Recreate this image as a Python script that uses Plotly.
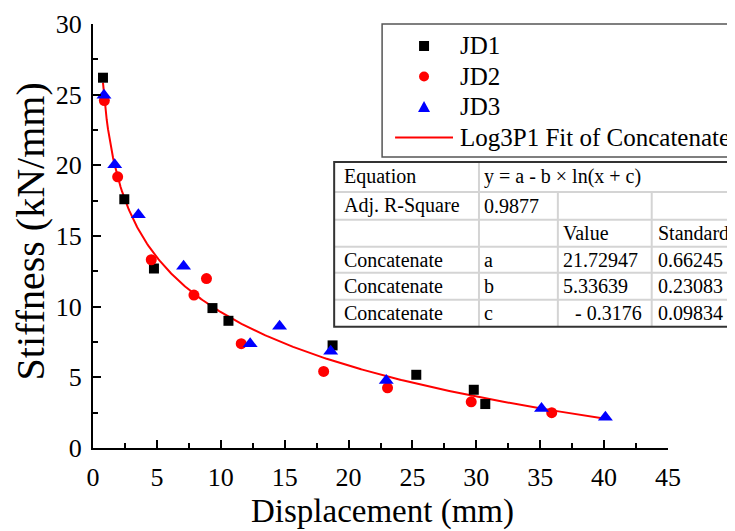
import numpy as np
import plotly.graph_objects as go

# ---------------- data ----------------
jd1_x = [0.78, 2.45, 4.77, 9.35, 10.6, 18.75, 25.3, 29.8, 30.7]
jd1_y = [26.2, 17.6, 12.7, 9.9, 9.0, 7.26, 5.18, 4.12, 3.11]

jd2_x = [0.89, 1.93, 4.56, 7.9, 8.88, 11.6, 18.05, 23.05, 29.6, 35.9]
jd2_y = [24.58, 19.19, 13.32, 10.82, 11.99, 7.38, 5.42, 4.26, 3.27, 2.5]

jd3_x = [0.86, 1.7, 3.55, 7.09, 12.3, 14.6, 18.6, 22.95, 35.1, 40.1]
jd3_y = [24.95, 20.05, 16.5, 12.86, 7.37, 8.62, 6.85, 4.78, 2.8, 2.18]

# Log3P1 fit parameters (as printed in the chart's table)
fit_a = 21.72947
fit_b = 5.33639
fit_c = -0.3176

x_ticks = [0, 5, 10, 15, 20, 25, 30, 35, 40, 45]
y_ticks = [0, 5, 10, 15, 20, 25, 30]

legend_names = ["JD1", "JD2", "JD3", "Log3P1 Fit of Concatenate"]

table_rows = [
    ["Equation", "y = a - b \u00d7 ln(x + c)", "", ""],
    ["Adj. R-Square", "0.9877", "", ""],
    ["", "", "Value", "Standard"],
    ["Concatenate", "a", "21.72947", "0.66245"],
    ["Concatenate", "b", "5.33639", "0.23083"],
    ["Concatenate", "c", "- 0.3176", "0.09834"],
]

# ---------------- figure ----------------
FONT = "Liberation Serif"
PAGE_OFF = 8           # default body margin of the html page
W, H = 735 - PAGE_OFF, 531 - PAGE_OFF
PL, PT = 92.5, 24      # plot-area corner in window pixels
PW, PH = 668.3 - 92.5, 448.3 - 24
L, T = PL - PAGE_OFF, PT - PAGE_OFF

def px(x):
    return (x - PL) / PW

def py(y):
    return (PT + PH - y) / PH

all_x = jd1_x + jd2_x + jd3_x
fit_x = np.linspace(min(all_x), max(all_x), 400)
fit_y = fit_a - fit_b * np.log(fit_x + fit_c)

fig = go.Figure()
fig.add_trace(go.Scatter(x=fit_x, y=fit_y, mode="lines",
                         line=dict(color="#ff0000", width=2),
                         name=legend_names[3], showlegend=False))
fig.add_trace(go.Scatter(x=jd1_x, y=jd1_y, mode="markers", name=legend_names[0],
                         marker=dict(symbol="square", size=10, color="black"),
                         showlegend=False, cliponaxis=False))
fig.add_trace(go.Scatter(x=jd2_x, y=jd2_y, mode="markers", name=legend_names[1],
                         marker=dict(symbol="circle", size=11, color="#ff0000"),
                         showlegend=False, cliponaxis=False))
fig.add_trace(go.Scatter(x=jd3_x, y=jd3_y, mode="markers", name=legend_names[2],
                         marker=dict(symbol="triangle-up", size=13, color="#0000ff"),
                         showlegend=False, cliponaxis=False))

shapes = []
annotations = []

# ---- legend (drawn) ----
LG_L, LG_T, LG_B = 382, 24, 157
shapes.append(dict(type="rect", xref="paper", yref="paper",
                   x0=px(LG_L), x1=px(760), y0=py(LG_B), y1=py(LG_T),
                   line=dict(color="#555555", width=1.5), fillcolor="white", layer="above"))
rows_y = [46, 76.5, 107, 137.5]
mx = 424
shapes.append(dict(type="rect", xref="paper", yref="paper",
                   x0=px(mx - 5), x1=px(mx + 5), y0=py(rows_y[0] + 5), y1=py(rows_y[0] - 5),
                   line=dict(width=0), fillcolor="black", layer="above"))
shapes.append(dict(type="circle", xref="paper", yref="paper",
                   x0=px(mx - 5), x1=px(mx + 5), y0=py(rows_y[1] + 5), y1=py(rows_y[1] - 5),
                   line=dict(width=0), fillcolor="#ff0000", layer="above"))
ty = rows_y[2]
shapes.append(dict(type="path", xref="paper", yref="paper",
                   path="M {} {} L {} {} L {} {} Z".format(px(mx - 6), py(ty + 5), px(mx + 6), py(ty + 5), px(mx), py(ty - 6)),
                   line=dict(width=0), fillcolor="#0000ff", layer="above"))
shapes.append(dict(type="line", xref="paper", yref="paper",
                   x0=px(395), x1=px(453), y0=py(rows_y[3]), y1=py(rows_y[3]),
                   line=dict(color="#ff0000", width=2), layer="above"))
for name, yy in zip(legend_names, rows_y):
    annotations.append(dict(xref="paper", yref="paper", x=px(458), y=py(yy),
                            xanchor="left", yanchor="middle", showarrow=False,
                            text=name, font=dict(family=FONT, size=25, color="black")))

# ---- table (drawn) ----
col_edges = [334, 479, 558, 652, 760]
row_edges = [162, 192, 220, 247, 273, 300, 327]
shapes.append(dict(type="rect", xref="paper", yref="paper",
                   x0=px(col_edges[0]), x1=px(col_edges[-1]),
                   y0=py(row_edges[-1]), y1=py(row_edges[0]),
                   line=dict(width=0), fillcolor="white", layer="above"))
for ry in row_edges[1:-1]:
    shapes.append(dict(type="line", xref="paper", yref="paper",
                       x0=px(col_edges[0]), x1=px(col_edges[-1]), y0=py(ry), y1=py(ry),
                       line=dict(color="#d4d4d4", width=2), layer="above"))
shapes.append(dict(type="line", xref="paper", yref="paper",
                   x0=px(col_edges[1]), x1=px(col_edges[1]), y0=py(row_edges[0]), y1=py(row_edges[-1]),
                   line=dict(color="#d4d4d4", width=2), layer="above"))
for cx in col_edges[2:4]:
    shapes.append(dict(type="line", xref="paper", yref="paper",
                       x0=px(cx), x1=px(cx), y0=py(row_edges[1]), y1=py(row_edges[-1]),
                       line=dict(color="#d4d4d4", width=2), layer="above"))
shapes.append(dict(type="rect", xref="paper", yref="paper",
                   x0=px(col_edges[0]), x1=px(col_edges[-1]),
                   y0=py(row_edges[-1]), y1=py(row_edges[0]),
                   line=dict(color="#333333", width=2), fillcolor="rgba(0,0,0,0)", layer="above"))
text_x = [342, 482, 561, 656]
for r, row in enumerate(table_rows):
    cy = (row_edges[r] + row_edges[r + 1]) / 2
    for c, txt in enumerate(row):
        if not txt:
            continue
        tx = text_x[c]
        if txt.startswith("-"):
            tx += 12
        annotations.append(dict(xref="paper", yref="paper", x=px(tx), y=py(cy),
                                xanchor="left", yanchor="middle", showarrow=False,
                                text=txt, font=dict(family=FONT, size=20, color="black")))

# ---- axis titles ----
annotations.append(dict(xref="paper", yref="paper", x=px(382), y=py(512),
                        xanchor="center", yanchor="middle", showarrow=False,
                        text="Displacement (mm)", font=dict(family=FONT, size=33, color="black")))
annotations.append(dict(xref="paper", yref="paper", x=px(30), y=py(232),
                        xanchor="center", yanchor="middle", showarrow=False, textangle=-90,
                        text="Stiffness (kN/mm)", font=dict(family=FONT, size=40, color="black")))

axis_common = dict(showgrid=False, zeroline=False, showline=True, linecolor="black", linewidth=2,
                   ticks="inside", ticklen=8, tickwidth=2, tickcolor="black",
                   tickfont=dict(family=FONT, size=26, color="black"))
minor_common = dict(ticks="inside", ticklen=5, tickwidth=2, tickcolor="black", dtick=2.5, tick0=0)

fig.update_layout(
    width=W, height=H,
    margin=dict(l=L, r=W - (L + PW), t=T, b=H - (T + PH), autoexpand=False),
    paper_bgcolor="white", plot_bgcolor="white",
    showlegend=False,
    xaxis=dict(range=[0, 45], tickvals=x_ticks, ticktext=[str(v) for v in x_ticks],
               minor=minor_common, ticklabelstandoff=5, **axis_common),
    yaxis=dict(range=[0, 30], tickvals=y_ticks, ticktext=[str(v) for v in y_ticks],
               minor=minor_common, ticklabelstandoff=4, **axis_common),
    shapes=shapes,
    annotations=annotations,
)

fig.write_html("out.html")
